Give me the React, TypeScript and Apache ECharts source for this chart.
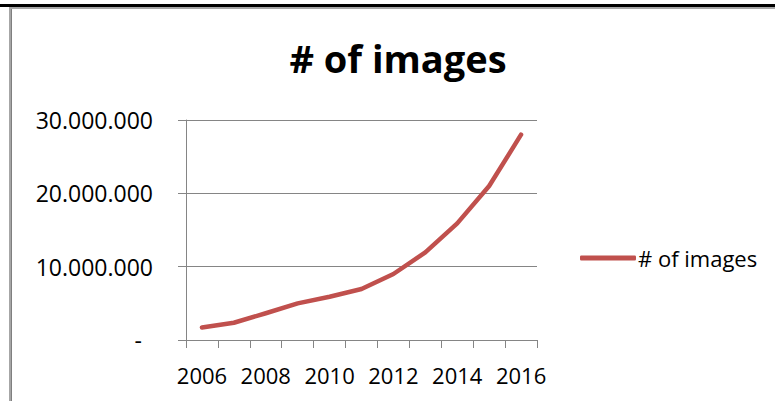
import React, { useEffect, useRef } from "react";
import * as echarts from "echarts";

const years = ["2006", "2007", "2008", "2009", "2010", "2011", "2012", "2013", "2014", "2015", "2016"];
const imageCounts = [1700000, 2350000, 3650000, 5000000, 5900000, 6950000, 9000000, 11950000, 15900000, 21000000, 28000000];
const seriesName = "# of images";
const titleText = "# of images";

const FONT = "'Open Sans', 'Noto Sans', sans-serif";
const GRID_GREY = "#858585";
const LINE_RED = "#c0504d";

function formatDots(v: number): string {
  return String(Math.round(v)).replace(/\B(?=(\d{3})+(?!\d))/g, ".");
}

export default function App() {
  const ref = useRef<HTMLDivElement>(null);

  useEffect(() => {
    if (!ref.current) return;
    const chart = echarts.init(ref.current, null, { renderer: "svg" });
    chart.setOption({
      animation: false,
      backgroundColor: "#ffffff",
      graphic: [
        { type: "rect", shape: { x: 0, y: 4, width: 775, height: 3 }, style: { fill: "#000000" } },
        { type: "rect", shape: { x: 9, y: 7, width: 766, height: 2 }, style: { fill: "#a6a6a6" } },
        { type: "rect", shape: { x: 9, y: 7, width: 3, height: 394 }, style: { fill: "#a6a6a6" } },
        { type: "rect", shape: { x: 11, y: 9, width: 1, height: 392 }, style: { fill: "#7f7f7f" } },
        {
          type: "text",
          x: 398,
          y: 58,
          style: {
            text: titleText,
            fill: "#000000",
            font: `bold 38px ${FONT}`,
            textAlign: "center",
            textVerticalAlign: "middle",
          },
        },
      ],
      legend: {
        data: [seriesName],
        left: 580,
        top: 246,
        padding: 0,
        icon: "roundRect",
        itemWidth: 56,
        itemHeight: 5,
        textStyle: { fontFamily: FONT, fontSize: 22, color: "#000000", lineHeight: 24, padding: [0, 0, 0, -3] },
      },
      grid: { left: 186, top: 120, width: 351, height: 220, containLabel: false },
      xAxis: {
        type: "category",
        data: years,
        boundaryGap: true,
        axisLine: { lineStyle: { color: GRID_GREY, width: 1 } },
        axisTick: { show: true, interval: 0, length: 8, lineStyle: { color: GRID_GREY } },
        axisLabel: {
          interval: 1,
          margin: 24,
          fontFamily: FONT,
          fontSize: 22,
          color: "#000000",
        },
        splitLine: { show: false },
      },
      yAxis: {
        type: "value",
        min: 0,
        max: 30000000,
        interval: 10000000,
        axisLine: { show: true, lineStyle: { color: GRID_GREY, width: 1 } },
        axisTick: { show: true, length: 8, lineStyle: { color: GRID_GREY } },
        axisLabel: {
          margin: 33,
          fontFamily: FONT,
          fontSize: 23,
          color: "#000000",
          formatter: (v: number) => (v === 0 ? "{z|-}" : formatDots(v)),
          rich: {
            z: { fontFamily: FONT, fontSize: 23, color: "#000000", padding: [0, 11, 0, 0] },
          },
        },
        splitLine: { show: true, lineStyle: { color: GRID_GREY, width: 1 } },
      },
      series: [
        {
          name: seriesName,
          type: "line",
          data: imageCounts,
          symbol: "none",
          color: LINE_RED,
          lineStyle: { color: LINE_RED, width: 4.5, cap: "round", join: "round" },
        },
      ],
    });
    return () => chart.dispose();
  }, []);

  return (
    <div
      ref={ref}
      style={{ position: "fixed", left: 0, top: 0, width: 775, height: 401, background: "#fff" }}
    />
  );
}
